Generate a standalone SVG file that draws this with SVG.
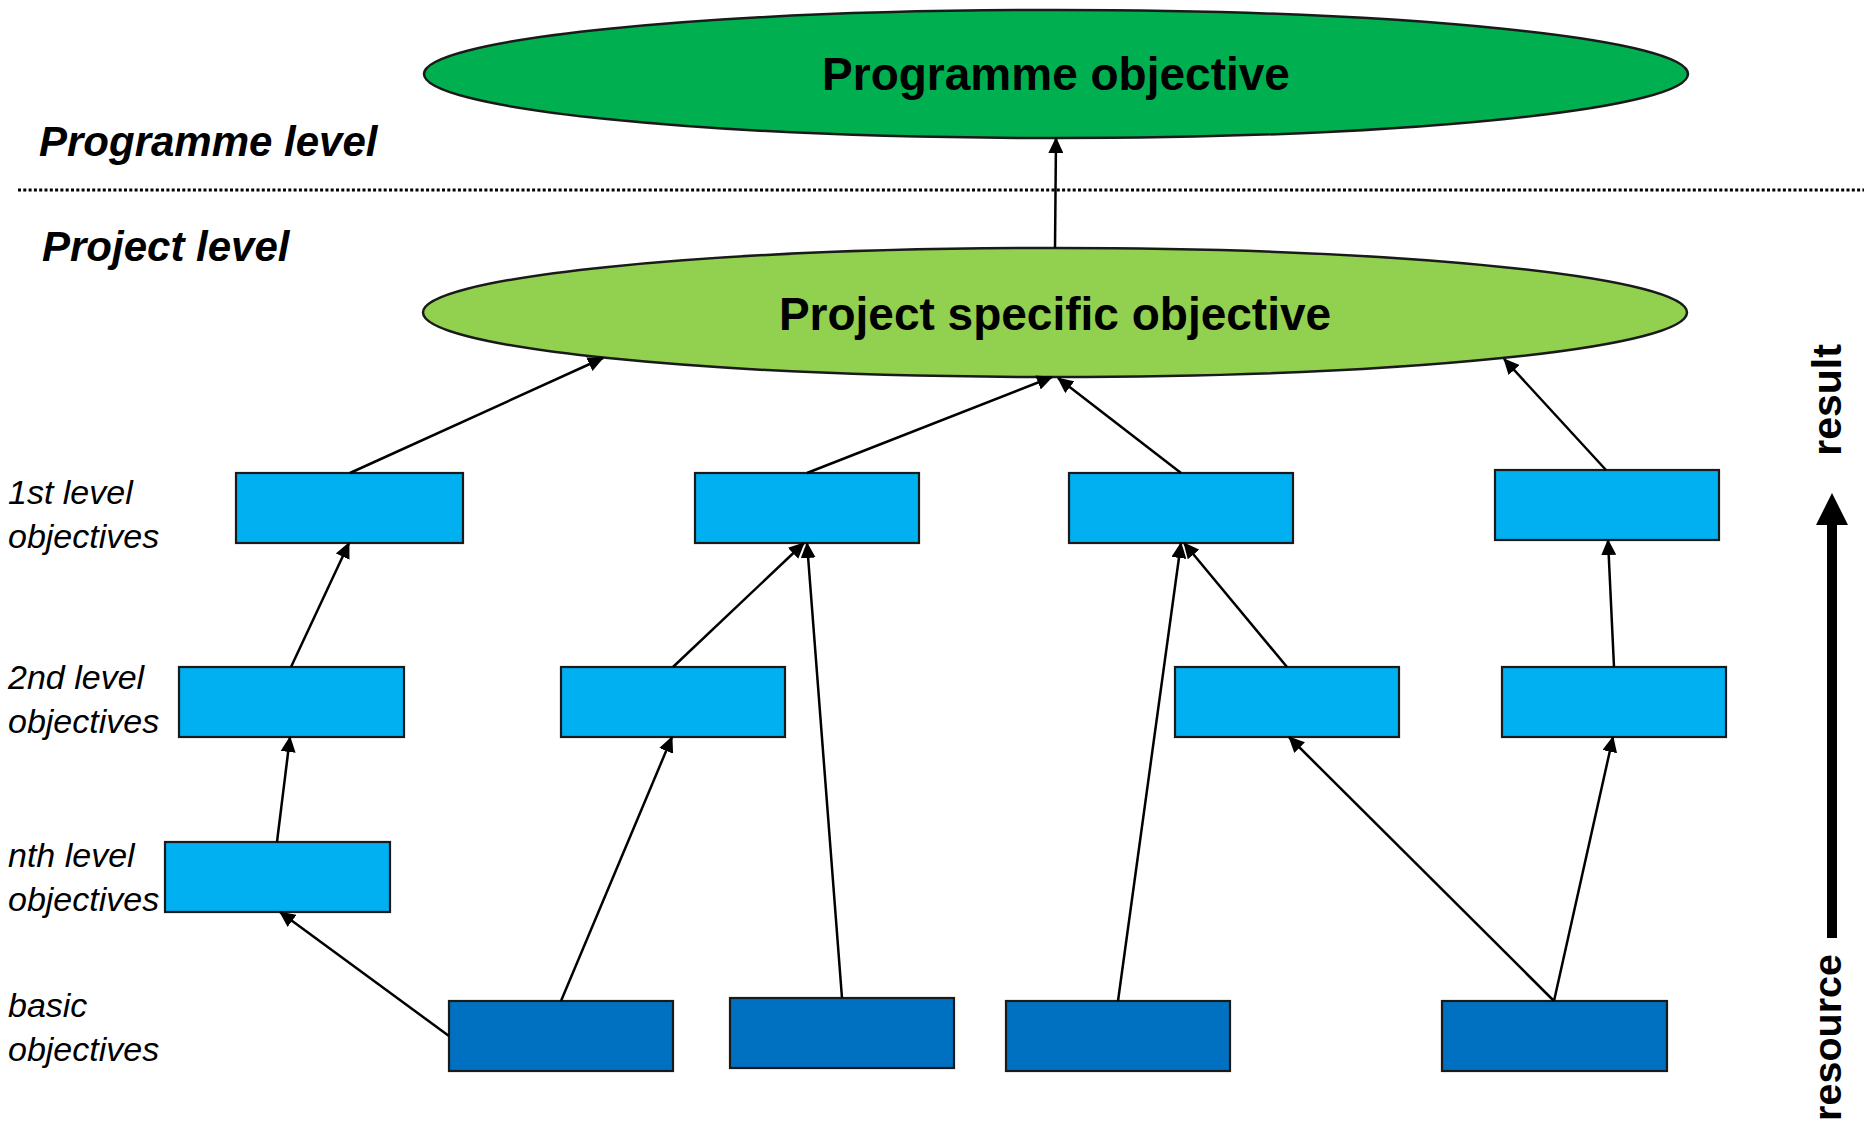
<svg xmlns="http://www.w3.org/2000/svg" width="1864" height="1124" viewBox="0 0 1864 1124">
<style>
text{font-family:"Liberation Sans",Arial,sans-serif;fill:#000}
.big{font-size:46px;font-weight:bold;text-anchor:middle}
.lvl{font-size:42px;font-weight:bold;font-style:italic}
.lab{font-size:34px;font-style:italic}
.side{font-size:41px;font-weight:bold}
.b1{fill:#00B0F0;stroke:#1a1a1a;stroke-width:2.2}
.b0{fill:#0070C0;stroke:#1a1a1a;stroke-width:2.2}
.conn line{stroke:#000;stroke-width:2.5;marker-end:url(#ah)}
</style>
<defs>
<marker id="ah" markerUnits="userSpaceOnUse" markerWidth="16" markerHeight="15" refX="15" refY="7.5" orient="auto">
<path d="M0,0 L16,7.5 L0,15 z" fill="#000"/>
</marker>
</defs>
<rect width="1864" height="1124" fill="#fff"/>
<line x1="18" y1="190" x2="1864" y2="190" stroke="#000" stroke-width="3" stroke-dasharray="3 2.3"/>
<text class="lvl" x="39" y="156">Programme level</text>
<text class="lvl" x="42" y="261">Project level</text>
<text class="lab" x="8" y="504">1st level</text>
<text class="lab" x="8" y="548">objectives</text>
<text class="lab" x="8" y="689">2nd level</text>
<text class="lab" x="8" y="733">objectives</text>
<text class="lab" x="8" y="867">nth level</text>
<text class="lab" x="8" y="911">objectives</text>
<text class="lab" x="8" y="1017">basic</text>
<text class="lab" x="8" y="1061">objectives</text>
<g id="prog-obj"><ellipse cx="1056" cy="74" rx="632" ry="64" fill="#00B050" stroke="#1a1a1a" stroke-width="2.5"/><text class="big" x="1056" y="90">Programme objective</text></g>
<g id="proj-obj"><ellipse cx="1055" cy="312.5" rx="632" ry="64.5" fill="#92D050" stroke="#1a1a1a" stroke-width="2.5"/><text class="big" x="1055" y="330">Project specific objective</text></g>
<g id="l1a"><rect class="b1" x="236" y="473" width="227" height="70"/></g>
<g id="l1b"><rect class="b1" x="695" y="473" width="224" height="70"/></g>
<g id="l1c"><rect class="b1" x="1069" y="473" width="224" height="70"/></g>
<g id="l1d"><rect class="b1" x="1495" y="470" width="224" height="70"/></g>
<g id="l2a"><rect class="b1" x="179" y="667" width="225" height="70"/></g>
<g id="l2b"><rect class="b1" x="561" y="667" width="224" height="70"/></g>
<g id="l2c"><rect class="b1" x="1175" y="667" width="224" height="70"/></g>
<g id="l2d"><rect class="b1" x="1502" y="667" width="224" height="70"/></g>
<g id="lna"><rect class="b1" x="165" y="842" width="225" height="70"/></g>
<g id="ba"><rect class="b0" x="449" y="1001" width="224" height="70"/></g>
<g id="bb"><rect class="b0" x="730" y="998" width="224" height="70"/></g>
<g id="bc"><rect class="b0" x="1006" y="1001" width="224" height="70"/></g>
<g id="bd"><rect class="b0" x="1442" y="1001" width="225" height="70"/></g>
<g class="conn" id="connectors">
<line x1="1055" y1="248" x2="1056" y2="138"/>
<line x1="350" y1="473" x2="603" y2="358"/>
<line x1="807" y1="473" x2="1052" y2="377"/>
<line x1="1181" y1="473" x2="1058" y2="378"/>
<line x1="1606" y1="470" x2="1504" y2="359"/>
<line x1="291" y1="667" x2="349" y2="543"/>
<line x1="277" y1="842" x2="290" y2="737"/>
<line x1="449" y1="1036" x2="280" y2="912"/>
<line x1="561" y1="1001" x2="672" y2="737"/>
<line x1="673" y1="667" x2="804" y2="543"/>
<line x1="842" y1="998" x2="807" y2="543"/>
<line x1="1118" y1="1001" x2="1181" y2="543"/>
<line x1="1287" y1="667" x2="1184" y2="543"/>
<line x1="1554" y1="1001" x2="1289" y2="737"/>
<line x1="1554" y1="1001" x2="1613" y2="737"/>
<line x1="1614" y1="667" x2="1608" y2="540"/>
</g>
<g id="side-arrow">
<rect x="1827" y="523" width="10" height="415" fill="#000"/>
<path d="M1832,493 L1848,525 L1816,525 z" fill="#000"/>
<text class="side" transform="translate(1841,400) rotate(-90)" text-anchor="middle">result</text>
<text class="side" transform="translate(1841,954) rotate(-90)" text-anchor="end" style="font-size:39.5px">resource</text>
</g>
</svg>
